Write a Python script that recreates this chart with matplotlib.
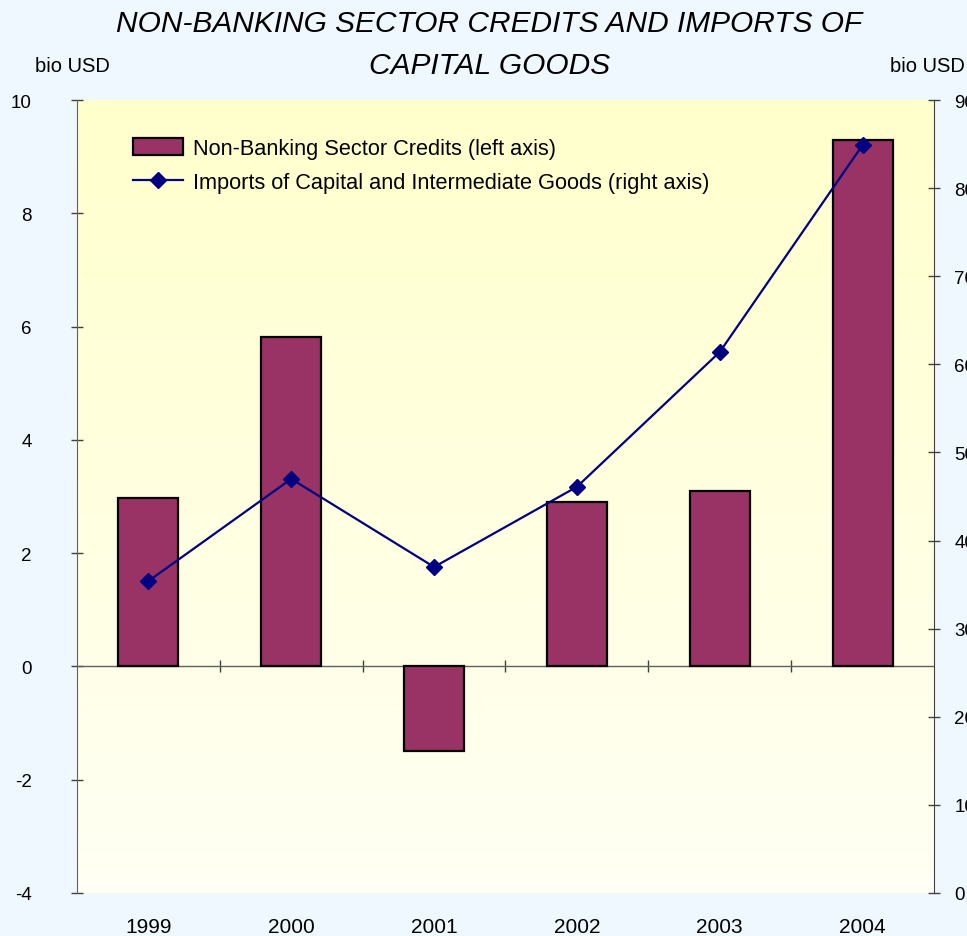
import numpy as np
import matplotlib
matplotlib.use("Agg")
import matplotlib.pyplot as plt
from matplotlib.lines import Line2D
from matplotlib.patches import Patch

plt.rcParams['font.family'] = ['Liberation Sans', 'DejaVu Sans']
plt.rcParams['axes.unicode_minus'] = False

years = ["1999", "2000", "2001", "2002", "2003", "2004"]
credits = [2.98, 5.81, -1.50, 2.91, 3.09, 9.30]     # left axis, bio USD
imports = [35.4, 47.0, 37.0, 46.1, 61.4, 84.9]      # right axis, bio USD

bar_color = "#993366"
line_color = "#000080"
axis_gray = "#606060"

fig = plt.figure(figsize=(9.67, 9.37), dpi=100, facecolor="#f0f8ff")
ax = fig.add_axes([0.0796, 0.0459, 0.8863, 0.8463])
ax2 = ax.twinx()

x = np.arange(len(years))
ax.set_xlim(-0.5, len(years) - 0.5)
ax.set_ylim(-4, 10)
ax2.set_ylim(0, 90)

# yellow -> near white gradient background
grad = np.linspace(0, 1, 256).reshape(-1, 1)
top = np.array([255, 255, 204]) / 255
bot = np.array([255, 255, 244]) / 255
img = top * (1 - grad[..., None]) + bot * grad[..., None]
img = np.repeat(img, 2, axis=1)
ax.imshow(img, extent=[0, 1, 0, 1], transform=ax.transAxes, aspect="auto", zorder=0)
ax.set_facecolor("none")

ax.bar(x, credits, width=0.42, color=bar_color, edgecolor="black", linewidth=1.6, zorder=3)
ax.axhline(0, color=axis_gray, lw=1.0, zorder=2)

ax2.plot(x, imports, color=line_color, lw=1.6, marker="D", markersize=8,
         markerfacecolor=line_color, markeredgecolor=line_color, zorder=4)

# spines
for s in ["top", "bottom"]:
    ax.spines[s].set_visible(False)
    ax2.spines[s].set_visible(False)
ax.spines["left"].set_color(axis_gray)
ax.spines["right"].set_visible(False)
ax2.spines["left"].set_visible(False)
ax2.spines["right"].set_color("#404040")

# y ticks
ax.set_yticks(np.arange(-4, 11, 2))
ax.tick_params(axis="y", direction="inout", length=9, width=1, color="#404040",
               labelsize=13.5, pad=28)
ax2.set_yticks(np.arange(0, 91, 10))
ax2.tick_params(axis="y", direction="inout", length=9, width=1, color="#404040",
                labelsize=13.5, pad=10)

# category labels at the bottom, boundary ticks on the zero line
ax.set_xticks(x)
ax.set_xticklabels(years)
ax.tick_params(axis="x", length=0, labelsize=15, pad=17)
zero_pos = (0 - ax.get_ylim()[0]) / (ax.get_ylim()[1] - ax.get_ylim()[0])
sec = ax.secondary_xaxis(zero_pos)
sec.set_xticks(np.arange(0.5, len(years) - 0.5, 1))
sec.set_xticklabels([])
sec.tick_params(direction="inout", length=9, width=1, color="#404040")
sec.spines["bottom"].set_visible(False)
sec.spines["top"].set_visible(False)

# title and unit labels
fig.text(0.506, 0.989, "NON-BANKING SECTOR CREDITS AND IMPORTS OF\nCAPITAL GOODS",
         ha="center", va="top", fontsize=21.5, style="italic", linespacing=1.6)
fig.text(0.036, 0.929, "bio USD", ha="left", va="center", fontsize=14.5)
fig.text(0.920, 0.929, "bio USD", ha="left", va="center", fontsize=14.5)

handles = [Patch(facecolor=bar_color, edgecolor="black", linewidth=1.6),
           Line2D([0], [0], color=line_color, lw=1.6, marker="D", markersize=8)]
labels = ["Non-Banking Sector Credits (left axis)",
          "Imports of Capital and Intermediate Goods (right axis)"]
ax2.legend(handles, labels, loc="upper left", bbox_to_anchor=(0.042, 0.977),
           frameon=False, fontsize=15.7, handlelength=2.3, handleheight=0.8,
           handletextpad=0.45, labelspacing=0.62)

fig.savefig("out.png", dpi=100, facecolor=fig.get_facecolor())
